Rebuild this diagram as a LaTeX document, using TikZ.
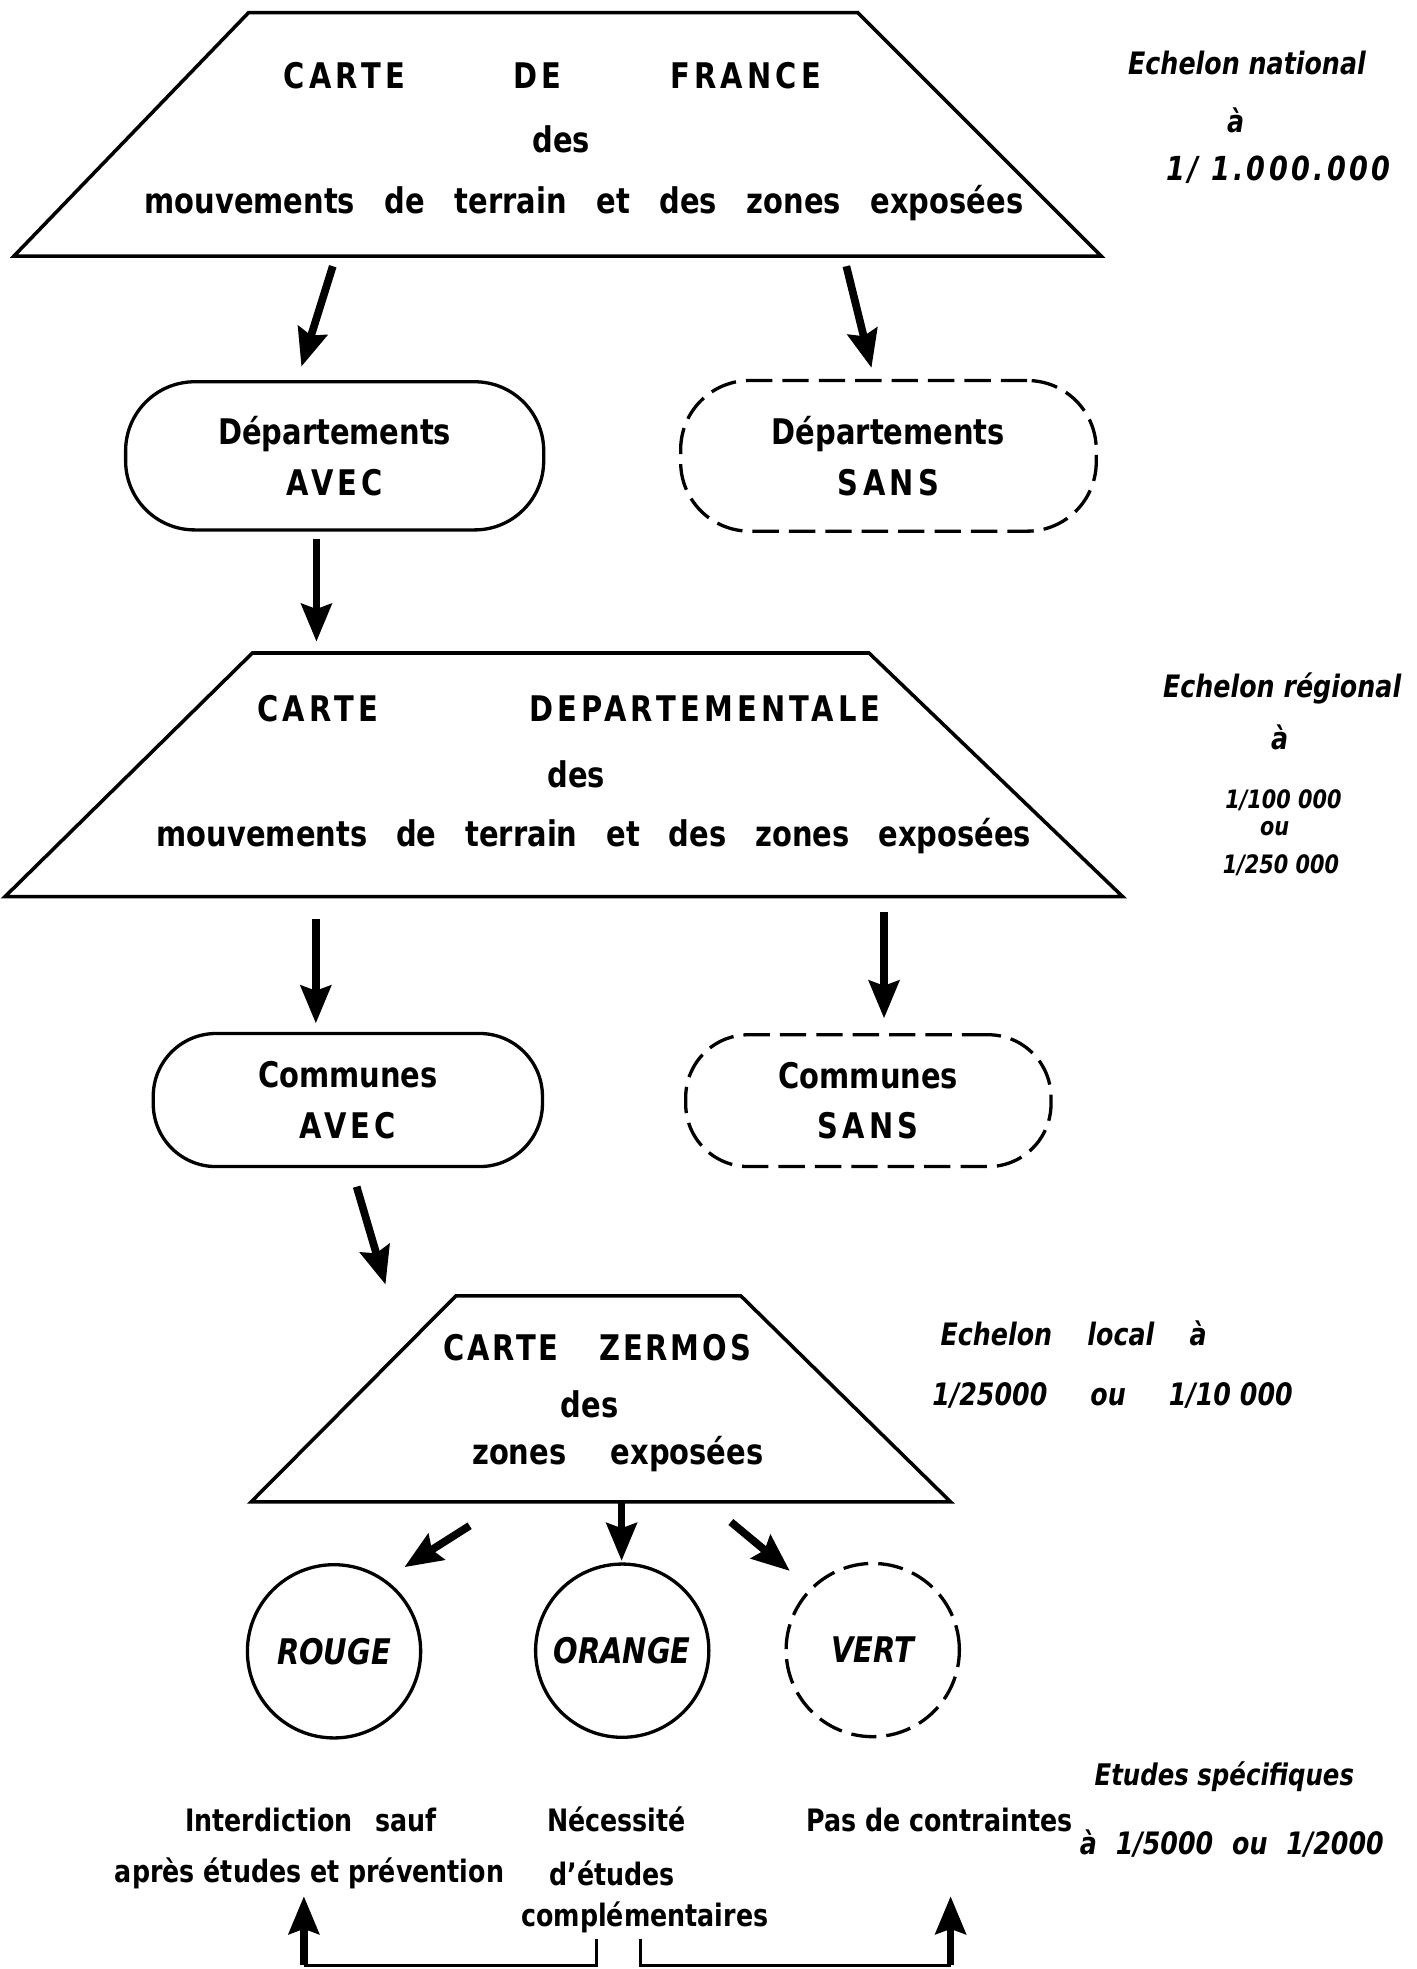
\documentclass[tikz,border=0pt]{standalone}
\usepackage{fontspec}
\setmainfont{DejaVu Sans}[FakeStretch=0.82]
\usetikzlibrary{arrows.meta}

\begin{document}
\begin{tikzpicture}[
    x=0.02cm,y=-0.02cm,
    trap/.style={draw,line width=1.6pt},
    pill/.style={draw,line width=1.5pt,rounded corners=1.1cm,align=center,
                 font=\fontsize{16}{23}\selectfont\bfseries},
    ghost/.style={pill,dash pattern=on 0.42cm off 0.16cm},
    zone/.style={draw,circle,line width=1.5pt,inner sep=0pt,
                 minimum size=2.76cm,
                 font=\fontsize{16}{19}\selectfont\bfseries\itshape},
    head/.style={font=\fontsize{16}{19}\selectfont\bfseries,inner sep=0pt},
    note/.style={font=\fontsize{14}{17}\selectfont\bfseries,inner sep=0pt},
    ech/.style={font=\fontsize{14}{17}\selectfont\bfseries\itshape,
                inner sep=0pt},
    num/.style={font=\fontsize{11.5}{14}\selectfont\bfseries\itshape,
                inner sep=0pt},
    arr/.style={-{Stealth[length=0.6cm,width=0.48cm,inset=0.08cm]},
                line width=3.5pt},
    link/.style={line width=1.4pt},
  ]
  \useasboundingbox (0,0) rectangle (1128,1568);

  \draw[trap] (198,10) -- (683,10) -- (877,204) -- (11,204) -- cycle;
  \node[head] (fr1) at (440,60)
    {\addfontfeature{LetterSpace=12}\makebox[8.56cm]{CARTE\hfill DE\hfill FRANCE}};
  \node[head] (fr2) at (447,111) {des};
  \node[head] (fr3) at (465,162)
    {\makebox[14cm]{mouvements\hfill de\hfill terrain\hfill et\hfill
     des\hfill zones\hfill exposées}};

  \node[pill,minimum width=6.66cm,minimum height=2.36cm] (depavec)
    at (266.5,363) {Départements\\\addfontfeature{LetterSpace=12}AVEC};
  \node[ghost,minimum width=6.62cm,minimum height=2.4cm] (depsans)
    at (707.5,363) {Départements\\\addfontfeature{LetterSpace=12}SANS};

  \draw[trap] (201,520) -- (692,520) -- (894,714) -- (4,714) -- cycle;
  \node[head] (dp1) at (453,564)
    {\addfontfeature{LetterSpace=12}\makebox[9.93cm]{CARTE\hfill DEPARTEMENTALE}};
  \node[head] (dp2) at (459,617) {des};
  \node[head] (dp3) at (473,666)
    {\makebox[13.93cm]{mouvements\hfill de\hfill terrain\hfill et\hfill
     des\hfill zones\hfill exposées}};

  \node[pill,minimum width=6.2cm,minimum height=2.12cm,rounded corners=1cm]
    (comavec) at (277,876) {Communes\\\addfontfeature{LetterSpace=12}AVEC};
  \node[ghost,minimum width=5.82cm,minimum height=2.1cm,rounded corners=1cm]
    (comsans) at (691.5,876.5) {Communes\\\addfontfeature{LetterSpace=12}SANS};

  \draw[trap] (363,1032) -- (590,1032) -- (757,1196) -- (200,1196) -- cycle;
  \node[head] (zm1) at (475.5,1073)
    {\addfontfeature{LetterSpace=8}\makebox[4.9cm]{CARTE\hfill ZERMOS}};
  \node[head] (zm2) at (469.5,1118) {des};
  \node[head] (zm3) at (492,1158) {\makebox[4.64cm]{zones\hfill exposées}};

  \node[zone] (rouge) at (266,1315) {ROUGE};
  \node[zone] (orange) at (495.5,1314.5) {ORANGE};
  \node[zone,dash pattern=on 0.4cm off 0.16cm] (vert) at (695,1314) {VERT};

  \node[note] (rg1) at (247.5,1449) {\makebox[4cm]{Interdiction\hfill sauf}};
  \node[note] (rg2) at (246.5,1492) {après études et prévention};
  \node[note] (or1) at (491,1449) {Nécessité};
  \node[note] (or2) at (487.5,1492) {d'études};
  \node[note] (or3) at (513.5,1527) {complémentaires};
  \node[note] (vt1) at (748,1449) {Pas de contraintes};

  \node[ech] (nat1) at (993,50) {Echelon national};
  \node[ech] (nat2) at (984,96) {à};
  \node[ech,font=\fontsize{15}{18}\selectfont\bfseries\itshape\addfontfeature{LetterSpace=10}]
    (nat3) at (1018,135) {1/ 1.000.000};
  \node[ech] (reg1) at (1021,548) {Echelon régional};
  \node[ech] (reg2) at (1019,587) {à};
  \node[num] (reg3) at (1022,637) {1/100 000};
  \node[num] (reg4) at (1015,660) {ou};
  \node[num] (reg5) at (1020,689) {1/250 000};
  \node[ech] (loc1) at (855,1062)
    {\makebox[4.24cm]{Echelon\hfill local\hfill à}};
  \node[ech] (loc2) at (886,1111)
    {\makebox[5.74cm]{1/25000\hfill ou\hfill 1/10 000}};
  \node[ech,font=\fontsize{13.5}{16}\selectfont\bfseries\itshape] (etu1)
    at (975,1415) {Etudes spécifiques};
  \node[ech] (etu2) at (981,1468)
    {\makebox[4.84cm]{à\hfill 1/5000\hfill ou\hfill 1/2000}};

  \coordinate (a1s) at (265,212);   \coordinate (a1e) at (240,292);
  \coordinate (a2s) at (674,212);   \coordinate (a2e) at (694,293);
  \coordinate (a3s) at (252,429);   \coordinate (a3e) at (252,511);
  \coordinate (a4s) at (251.5,732); \coordinate (a4e) at (251.5,815);
  \coordinate (a5s) at (704,726);   \coordinate (a5e) at (704,811);
  \coordinate (a6s) at (284,945);   \coordinate (a6e) at (307,1023);
  \coordinate (a7s) at (374,1215);  \coordinate (a7e) at (322,1248);
  \coordinate (a8s) at (495,1197);  \coordinate (a8e) at (495,1243);
  \coordinate (a9s) at (582,1212);  \coordinate (a9e) at (629,1251);
  \coordinate (nl) at (475,1544);   \coordinate (nr) at (510,1544);
  \coordinate (bl) at (242,1565);   \coordinate (br) at (757,1565);
  \coordinate (tl) at (242,1510);   \coordinate (tr) at (757,1510);

  \draw[arr] (a1s) -- (a1e);
  \draw[arr] (a2s) -- (a2e);
  \draw[arr] (a3s) -- (a3e);
  \draw[arr] (a4s) -- (a4e);
  \draw[arr] (a5s) -- (a5e);
  \draw[arr] (a6s) -- (a6e);
  \draw[arr] (a7s) -- (a7e);
  \draw[arr] (a8s) -- (a8e);
  \draw[arr] (a9s) -- (a9e);
  \draw[link] (nl) |- (bl);
  \draw[arr] (bl) -- (tl);
  \draw[link] (nr) |- (br);
  \draw[arr] (br) -- (tr);
\end{tikzpicture}
\end{document}
